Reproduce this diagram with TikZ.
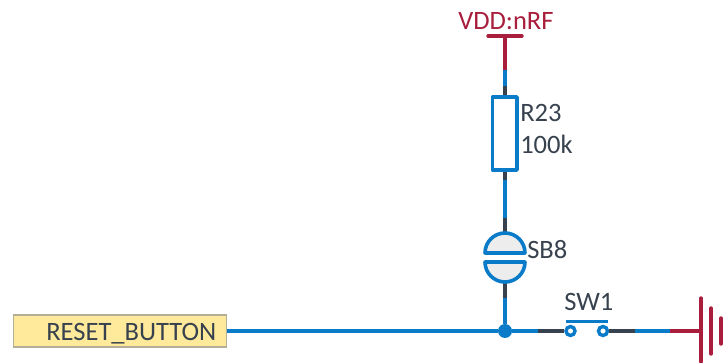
\documentclass[tikz,border=0pt]{standalone}
\usepackage{fontspec}
\setmainfont{Carlito}
\definecolor{wireblue}{HTML}{0A7BC8}
\definecolor{wiredark}{HTML}{37424E}
\definecolor{powerred}{HTML}{A81E3C}
\definecolor{labelfill}{HTML}{FFE99B}
\definecolor{labelline}{HTML}{B3AE96}
\definecolor{solder}{HTML}{EDEDED}
\tikzset{
  wire/.style={line width=3.4pt*0.75, wireblue},
  lead/.style={line width=3.4pt*0.75, wiredark},
  power/.style={line width=3.4pt*0.75, powerred},
  part/.style={line width=3.6pt*0.75, draw=wireblue},
  txt/.style={inner sep=0pt, text=wiredark, font=\fontsize{19.9}{22}\selectfont, anchor=base west},
  pin/.style={circle, draw=wireblue, fill=white, line width=3.4pt*0.75, minimum size=9pt*0.75, inner sep=0pt},
}
\begin{document}
\begin{tikzpicture}[x=0.75pt,y=-0.75pt]
\useasboundingbox (0,0) rectangle (725,363);
% named points
\coordinate (vddbar) at (505,36);
\coordinate (vddend) at (505,70);
\coordinate (rbluetop) at (505,86);
\coordinate (rtop) at (505,97);
\coordinate (rbot) at (505,170);
\coordinate (rleadend) at (505,180);
\coordinate (sbleadtop) at (505,218);
\coordinate (sbtop) at (505,232);
\coordinate (sbbot) at (505,283);
\coordinate (sbleadend) at (505,298);
\coordinate (wl) at (538,331);
\coordinate (wr) at (635,331);
\coordinate (wrr) at (670,331);
\coordinate (batt) at (701,331);
% leads and wires
\draw[power] (vddbar) -- (vddend);
\draw[wire] (vddend) -- (rbluetop);
\draw[lead] (rbluetop) -- (rtop);
\draw[lead] (rbot) -- (rleadend);
\draw[wire] (rleadend) -- (sbleadtop);
\draw[lead] (sbleadtop) -- (sbtop);
\draw[lead] (sbbot) -- (sbleadend);
\node[draw=labelline, fill=labelfill, line width=0.9pt, minimum width=213*0.75pt, minimum height=32*0.75pt, inner sep=0pt] (lbl) at (119.75,331) {};
\node[circle, fill=wireblue, minimum size=14*0.75pt, inner sep=0pt] (jn) at (505,331) {};
\node[pin] (sa) at (570.5,331) {};
\node[pin] (sb) at (603,331) {};
\draw[wire] (sbleadend) -- (jn);
\draw[wire] (lbl.east) -- (jn);
\draw[wire] (jn) -- (wl);
\draw[lead] (wl) -- (sa);
\draw[lead] (sb) -- (wr);
\draw[wire] (wr) -- (wrr);
\draw[power] (wrr) -- (batt);
% VDD bar
\draw[power, line cap=round] (488,36) -- (522,36);
% resistor
\draw[part, line join=round] (492.5,97) rectangle (517,170);
% solder bridge
\draw[part, fill=solder, line join=round] (485,253) arc[start angle=180, end angle=360, radius=20] -- cycle;
\draw[part, fill=solder, line join=round] (485,262) arc[start angle=180, end angle=0, radius=20] -- cycle;
% switch bar
\draw[wire, line width=3.6pt*0.75] (566,321.5) -- (608,321.5);
% ground
\draw[power, line cap=round] (701,298) -- (701,362);
\draw[power, line cap=round] (711,308) -- (711,354);
\draw[power, line cap=round] (721,318) -- (721,344);
% texts
\node[txt, text=powerred] (t1) at (458,30) {VDD:nRF};
\node[txt] (t2) at (520,122) {R23};
\node[txt] (t3) at (520,154) {100k};
\node[txt] (t4) at (527,259) {SB8};
\node[txt] (t5) at (564,311) {SW1};
\node[txt] (t6) at (46,341) {RESET\_BUTTON};
\end{tikzpicture}
\end{document}
